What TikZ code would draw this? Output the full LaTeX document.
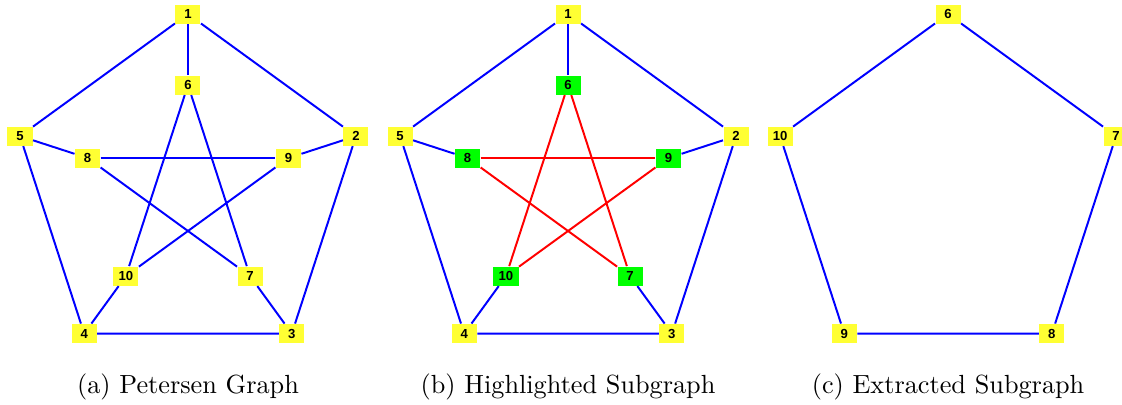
\documentclass[tikz,border=0pt]{standalone}
\usepackage{fontspec}
\newfontfamily\labfont{Liberation Sans}
\usetikzlibrary{calc}
\definecolor{vyellow}{RGB}{255,255,51}

\begin{document}
\begin{tikzpicture}[
  vert/.style={fill=vyellow, inner sep=0pt, minimum width=0.335cm, minimum height=0.254cm,
    font=\labfont\bfseries\fontsize{5}{6}\selectfont},
  hvert/.style={vert, fill=green},
  edge/.style={blue, line width=0.75pt},
  hedge/.style={red, line width=0.75pt}
]
\def\R{2.365}
\def\r{1.414}
\def\cy{2.857}
\useasboundingbox (0,0) rectangle (15.023,5.41);

% (a) Petersen graph
\coordinate (A) at (2.517,\cy);
\node[vert] (a1) at ($(A)+(90:\R)$) {1};
\node[vert] (a2) at ($(A)+(18:\R)$) {2};
\node[vert] (a3) at ($(A)+(-54:\R)$) {3};
\node[vert] (a4) at ($(A)+(234:\R)$) {4};
\node[vert] (a5) at ($(A)+(162:\R)$) {5};
\node[vert] (a6) at ($(A)+(90:\r)$) {6};
\node[vert] (a9) at ($(A)+(18:\r)$) {9};
\node[vert] (a7) at ($(A)+(-54:\r)$) {7};
\node[vert] (a10) at ($(A)+(234:\r)$) {10};
\node[vert] (a8) at ($(A)+(162:\r)$) {8};

\draw[edge] (a1) -- (a2) -- (a3) -- (a4) -- (a5) -- (a1);
\draw[edge] (a1) -- (a6);
\draw[edge] (a2) -- (a9);
\draw[edge] (a3) -- (a7);
\draw[edge] (a4) -- (a10);
\draw[edge] (a5) -- (a8);
\draw[edge] (a6) -- (a10);
\draw[edge] (a6) -- (a7);
\draw[edge] (a8) -- (a9);
\draw[edge] (a8) -- (a7);
\draw[edge] (a9) -- (a10);

% (b) highlighted inner star
\coordinate (B) at (7.606,\cy);
\node[vert] (b1) at ($(B)+(90:\R)$) {1};
\node[vert] (b2) at ($(B)+(18:\R)$) {2};
\node[vert] (b3) at ($(B)+(-54:\R)$) {3};
\node[vert] (b4) at ($(B)+(234:\R)$) {4};
\node[vert] (b5) at ($(B)+(162:\R)$) {5};
\node[hvert] (b6) at ($(B)+(90:\r)$) {6};
\node[hvert] (b9) at ($(B)+(18:\r)$) {9};
\node[hvert] (b7) at ($(B)+(-54:\r)$) {7};
\node[hvert] (b10) at ($(B)+(234:\r)$) {10};
\node[hvert] (b8) at ($(B)+(162:\r)$) {8};

\draw[edge] (b1) -- (b2) -- (b3) -- (b4) -- (b5) -- (b1);
\draw[edge] (b1) -- (b6);
\draw[edge] (b2) -- (b9);
\draw[edge] (b3) -- (b7);
\draw[edge] (b4) -- (b10);
\draw[edge] (b5) -- (b8);
\draw[hedge] (b6) -- (b10);
\draw[hedge] (b6) -- (b7);
\draw[hedge] (b8) -- (b9);
\draw[hedge] (b8) -- (b7);
\draw[hedge] (b9) -- (b10);

% (c) extracted cycle
\coordinate (C) at (12.694,\cy);
\node[vert] (c6) at ($(C)+(90:\R)$) {6};
\node[vert] (c7) at ($(C)+(18:\R)$) {7};
\node[vert] (c8) at ($(C)+(-54:\R)$) {8};
\node[vert] (c9) at ($(C)+(234:\R)$) {9};
\node[vert] (c10) at ($(C)+(162:\R)$) {10};

\draw[edge] (c6) -- (c7) -- (c8) -- (c9) -- (c10) -- (c6);

% captions
\node[anchor=base] (capa) at (2.517,0.147) {(a) Petersen Graph};
\node[anchor=base] (capb) at (7.606,0.147) {(b) Highlighted Subgraph};
\node[anchor=base] (capc) at (12.694,0.147) {(c) Extracted Subgraph};
\end{tikzpicture}
\end{document}
